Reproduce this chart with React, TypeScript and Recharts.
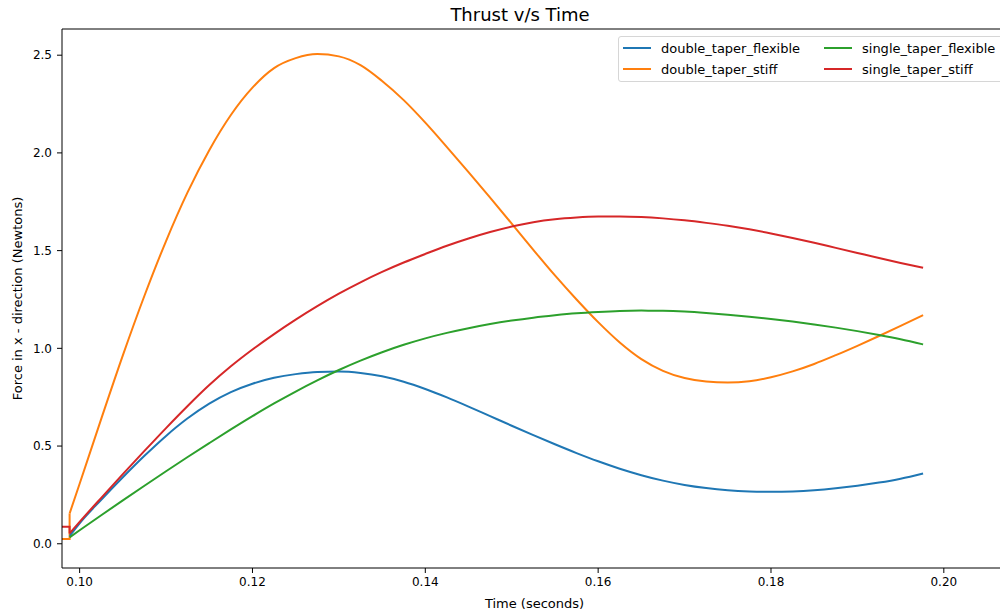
import React from "react";
import { LineChart, Line, XAxis, YAxis, ReferenceLine } from "recharts";

const time = [0.09796, 0.09884, 0.09884, 0.1, 0.1025, 0.105, 0.1075, 0.11, 0.1125, 0.115, 0.1175, 0.12, 0.1225, 0.125, 0.1275, 0.13, 0.1325, 0.135, 0.1375, 0.14, 0.1425, 0.145, 0.1475, 0.15, 0.1525, 0.155, 0.1575, 0.16, 0.1625, 0.165, 0.1675, 0.17, 0.1725, 0.175, 0.1775, 0.18, 0.1825, 0.185, 0.1875, 0.19, 0.1925, 0.195, 0.1976];

// values before / at the initial step (first three rows)
const doubleTaperStiffLead = [0.024, 0.024, 0.155];
const singleTaperStiffLead = [0.087, 0.087, 0.053];

const doubleTaperFlexible = [null, null, 0.04, 0.105, 0.225, 0.34, 0.45, 0.552, 0.642, 0.717, 0.776, 0.819, 0.849, 0.868, 0.879, 0.881, 0.874, 0.857, 0.829, 0.792, 0.749, 0.702, 0.653, 0.604, 0.556, 0.509, 0.464, 0.422, 0.384, 0.351, 0.323, 0.301, 0.285, 0.274, 0.268, 0.266, 0.268, 0.274, 0.284, 0.297, 0.313, 0.333, 0.36];

const doubleTaperStiff = [null, null, 0.155, 0.307, 0.639, 0.964, 1.269, 1.549, 1.799, 2.014, 2.194, 2.334, 2.434, 2.485, 2.506, 2.494, 2.449, 2.368, 2.27, 2.155, 2.03, 1.902, 1.771, 1.638, 1.504, 1.373, 1.25, 1.134, 1.03, 0.945, 0.885, 0.848, 0.83, 0.825, 0.832, 0.852, 0.882, 0.92, 0.965, 1.013, 1.063, 1.115, 1.17];

const singleTaperFlexible = [null, null, 0.033, 0.069, 0.146, 0.222, 0.297, 0.371, 0.444, 0.515, 0.585, 0.653, 0.718, 0.779, 0.836, 0.889, 0.937, 0.98, 1.018, 1.051, 1.079, 1.103, 1.124, 1.142, 1.157, 1.169, 1.179, 1.186, 1.191, 1.193, 1.192, 1.188, 1.181, 1.172, 1.162, 1.15, 1.137, 1.122, 1.106, 1.088, 1.068, 1.046, 1.02];

const singleTaperStiff = [null, null, 0.053, 0.112, 0.235, 0.356, 0.475, 0.592, 0.705, 0.812, 0.908, 0.994, 1.073, 1.147, 1.216, 1.28, 1.338, 1.391, 1.439, 1.483, 1.525, 1.562, 1.595, 1.623, 1.645, 1.66, 1.669, 1.674, 1.675, 1.672, 1.665, 1.655, 1.642, 1.627, 1.609, 1.588, 1.565, 1.54, 1.514, 1.488, 1.462, 1.437, 1.412];

const xTicks = [0.1, 0.12, 0.14, 0.16, 0.18, 0.2];
const yTicks = [0, 0.5, 1.0, 1.5, 2.0, 2.5];

const seriesNames = ["double_taper_flexible", "double_taper_stiff", "single_taper_flexible", "single_taper_stiff"];
const seriesColors = ["#1f77b4", "#ff7f0e", "#2ca02c", "#d62728"];

const X_DOMAIN: [number, number] = [0.09796, 0.20731];
const Y_DOMAIN: [number, number] = [-0.124, 2.634];

const data = time.map((t, i) => ({
  t,
  double_taper_flexible: doubleTaperFlexible[i],
  double_taper_stiff: doubleTaperStiff[i],
  single_taper_flexible: singleTaperFlexible[i],
  single_taper_stiff: singleTaperStiff[i],
  double_taper_stiff_lead: i < doubleTaperStiffLead.length ? doubleTaperStiffLead[i] : null,
  single_taper_stiff_lead: i < singleTaperStiffLead.length ? singleTaperStiffLead[i] : null,
}));

const FONT = "'DejaVu Sans', sans-serif";

const LegendBox = () => {
  return (
    <div
      style={{
        position: "absolute",
        left: 618,
        top: 36,
        width: 390,
        height: 46,
        border: "1px solid #d6d6d6",
        borderRadius: 3,
        background: "rgba(255,255,255,0.8)",
        boxSizing: "border-box",
        fontFamily: FONT,
        fontSize: 13,
        color: "#000",
        zIndex: 2,
      }}
    >
      {seriesNames.map((name, i) => {
        const ci = Math.floor(i / 2);
        const ri = i % 2;
        return (
          <div
            key={name}
            style={{
              position: "absolute",
              left: 4 + ci * 201,
              top: 3 + ri * 21,
              height: 16,
              display: "flex",
              alignItems: "center",
              whiteSpace: "nowrap",
            }}
          >
            <span style={{ display: "inline-block", width: 28, height: 2, background: seriesColors[i], marginRight: 10 }} />
            <span>{name}</span>
          </div>
        );
      })}
    </div>
  );
};

const YLabel = (props: any) => {
  const vb = props.viewBox || {};
  const cy = vb.y + vb.height / 2;
  return (
    <text
      x={22}
      y={cy}
      transform={`rotate(-90 22 ${cy})`}
      textAnchor="middle"
      fontFamily={FONT}
      fontSize={13}
      fill="#000"
    >
      Force in x - direction (Newtons)
    </text>
  );
};

export default function App() {
  return (
    <div style={{ position: "absolute", left: 0, top: 0, width: 1000, height: 613, overflow: "hidden", background: "#fff" }}>
      <div
        style={{
          position: "absolute",
          left: 0,
          top: 4,
          width: 1040,
          textAlign: "center",
          fontFamily: FONT,
          fontSize: 18,
          lineHeight: "21px",
          color: "#000",
          zIndex: 2,
        }}
      >
        Thrust v/s Time
      </div>
      <LegendBox />
      <LineChart width={1008} height={613} data={data} margin={{ top: 29, right: 1, bottom: 0, left: 0 }}>
        <XAxis
          dataKey="t"
          type="number"
          domain={X_DOMAIN}
          allowDataOverflow
          ticks={xTicks}
          tickFormatter={(v: number) => v.toFixed(2)}
          tickSize={5}
          tickMargin={4}
          height={45}
          stroke="#000"
          tick={{ fill: "#000", fontSize: 12, fontFamily: FONT }}
          label={{ value: "Time (seconds)", position: "insideBottom", offset: 5, fill: "#000", fontSize: 13, fontFamily: FONT }}
        />
        <YAxis
          type="number"
          domain={Y_DOMAIN}
          allowDataOverflow
          ticks={yTicks}
          tickFormatter={(v: number) => v.toFixed(1)}
          tickSize={5}
          tickMargin={5}
          width={62}
          stroke="#000"
          tick={{ fill: "#000", fontSize: 12, fontFamily: FONT }}
          label={<YLabel />}
        />
        <ReferenceLine y={Y_DOMAIN[1]} stroke="#000" strokeWidth={1} />
        <ReferenceLine x={X_DOMAIN[1]} stroke="#000" strokeWidth={1} />
        <Line
          dataKey="double_taper_stiff_lead"
          type="linear"
          stroke={seriesColors[1]}
          strokeWidth={2}
          dot={false}
          activeDot={false}
          legendType="none"
          isAnimationActive={false}
        />
        <Line
          dataKey="single_taper_stiff_lead"
          type="linear"
          stroke={seriesColors[3]}
          strokeWidth={2}
          dot={false}
          activeDot={false}
          legendType="none"
          isAnimationActive={false}
        />
        {seriesNames.map((name, i) => (
          <Line
            key={name}
            dataKey={name}
            name={name}
            type="monotone"
            stroke={seriesColors[i]}
            strokeWidth={2}
            dot={false}
            activeDot={false}
            isAnimationActive={false}
          />
        ))}
      </LineChart>
    </div>
  );
}
